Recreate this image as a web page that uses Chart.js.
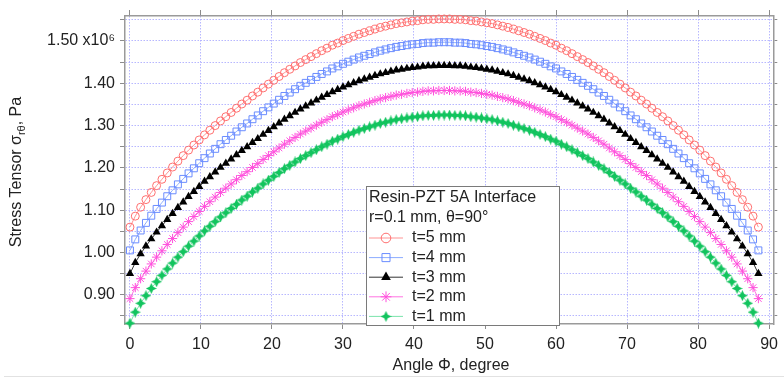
<!DOCTYPE html>
<html>
<head>
<meta charset="utf-8">
<script src="https://cdn.jsdelivr.net/npm/chart.js@4/dist/chart.umd.min.js"></script>
<style>
  html, body { margin: 0; padding: 0; background: #fff; }
  #wrap { width: 784px; height: 377px; }
</style>
</head>
<body>
<div id="wrap"><canvas id="myChart" width="784" height="377"></canvas></div>
<script>
'use strict';

// angle phi, degree
let angles = [0,0.75,1.5,2.25,3,3.75,4.5,5.25,6,6.75,7.5,8.25,9,9.75,10.5,11.25,12,12.75,13.5,14.25,15,15.75,16.5,17.25,18,18.75,19.5,20.25,21,21.75,22.5,23.25,24,24.75,25.5,26.25,27,27.75,28.5,29.25,30,30.75,31.5,32.25,33,33.75,34.5,35.25,36,36.75,37.5,38.25,39,39.75,40.5,41.25,42,42.75,43.5,44.25,45,45.75,46.5,47.25,48,48.75,49.5,50.25,51,51.75,52.5,53.25,54,54.75,55.5,56.25,57,57.75,58.5,59.25,60,60.75,61.5,62.25,63,63.75,64.5,65.25,66,66.75,67.5,68.25,69,69.75,70.5,71.25,72,72.75,73.5,74.25,75,75.75,76.5,77.25,78,78.75,79.5,80.25,81,81.75,82.5,83.25,84,84.75,85.5,86.25,87,87.75,88.5];

// stress tensor, x10^6 Pa
let t5 = [1.060,1.086,1.107,1.125,1.142,1.158,1.173,1.188,1.202,1.216,1.229,1.242,1.254,1.266,1.278,1.289,1.300,1.311,1.321,1.331,1.341,1.351,1.360,1.370,1.379,1.389,1.398,1.407,1.416,1.425,1.433,1.441,1.449,1.456,1.463,1.470,1.477,1.483,1.490,1.495,1.501,1.506,1.511,1.516,1.520,1.524,1.528,1.532,1.535,1.538,1.541,1.543,1.545,1.547,1.548,1.550,1.551,1.551,1.552,1.552,
  1.552,1.551,1.551,1.550,1.548,1.547,1.545,1.543,1.541,1.538,1.535,1.532,1.528,1.524,1.520,1.516,1.511,1.506,1.501,1.495,1.490,1.483,1.477,1.470,1.463,1.456,1.449,1.441,1.433,1.425,1.416,1.407,1.398,1.389,1.379,1.370,1.360,1.351,1.341,1.331,1.321,1.311,1.300,1.289,1.278,1.266,1.254,1.242,1.229,1.216,1.202,1.188,1.173,1.158,1.142,1.125,1.107,1.086,1.060];
let t4 = [1.005,1.031,1.052,1.070,1.087,1.103,1.118,1.133,1.147,1.161,1.174,1.187,1.199,1.211,1.223,1.234,1.245,1.256,1.266,1.276,1.286,1.296,1.305,1.315,1.324,1.334,1.343,1.352,1.361,1.370,1.378,1.386,1.394,1.401,1.408,1.415,1.422,1.428,1.435,1.440,1.446,1.451,1.456,1.461,1.465,1.469,1.473,1.477,1.480,1.483,1.486,1.488,1.490,1.492,1.493,1.495,1.496,1.496,1.497,1.497,
  1.497,1.496,1.496,1.495,1.493,1.492,1.490,1.488,1.486,1.483,1.480,1.477,1.473,1.469,1.465,1.461,1.456,1.451,1.446,1.440,1.435,1.428,1.422,1.415,1.408,1.401,1.394,1.386,1.378,1.370,1.361,1.352,1.343,1.334,1.324,1.315,1.305,1.296,1.286,1.276,1.266,1.256,1.245,1.234,1.223,1.211,1.199,1.187,1.174,1.161,1.147,1.133,1.118,1.103,1.087,1.070,1.052,1.031,1.005];
let t3 = [0.950,0.976,0.997,1.015,1.032,1.048,1.063,1.078,1.092,1.106,1.119,1.132,1.144,1.156,1.168,1.179,1.190,1.201,1.211,1.221,1.231,1.241,1.250,1.260,1.269,1.279,1.288,1.297,1.306,1.315,1.323,1.331,1.339,1.346,1.353,1.360,1.367,1.373,1.380,1.385,1.391,1.396,1.401,1.406,1.410,1.414,1.418,1.422,1.425,1.428,1.431,1.433,1.435,1.437,1.438,1.440,1.441,1.441,1.442,1.442,
  1.442,1.441,1.441,1.440,1.438,1.437,1.435,1.433,1.431,1.428,1.425,1.422,1.418,1.414,1.410,1.406,1.401,1.396,1.391,1.385,1.380,1.373,1.367,1.360,1.353,1.346,1.339,1.331,1.323,1.315,1.306,1.297,1.288,1.279,1.269,1.260,1.250,1.241,1.231,1.221,1.211,1.201,1.190,1.179,1.168,1.156,1.144,1.132,1.119,1.106,1.092,1.078,1.063,1.048,1.032,1.015,0.997,0.976,0.950];
let t2 = [0.891,0.917,0.938,0.956,0.973,0.989,1.004,1.019,1.033,1.047,1.060,1.073,1.085,1.097,1.109,1.120,1.131,1.142,1.152,1.162,1.172,1.182,1.191,1.201,1.210,1.220,1.229,1.238,1.247,1.256,1.264,1.272,1.280,1.287,1.294,1.301,1.308,1.314,1.321,1.326,1.332,1.337,1.342,1.347,1.351,1.355,1.359,1.363,1.366,1.369,1.372,1.374,1.376,1.378,1.379,1.381,1.382,1.382,1.383,1.383,
  1.383,1.382,1.382,1.381,1.379,1.378,1.376,1.374,1.372,1.369,1.366,1.363,1.359,1.355,1.351,1.347,1.342,1.337,1.332,1.326,1.321,1.314,1.308,1.301,1.294,1.287,1.280,1.272,1.264,1.256,1.247,1.238,1.229,1.220,1.210,1.201,1.191,1.182,1.172,1.162,1.152,1.142,1.131,1.120,1.109,1.097,1.085,1.073,1.060,1.047,1.033,1.019,1.004,0.989,0.973,0.956,0.938,0.917,0.891];
let t1 = [0.833,0.859,0.880,0.898,0.915,0.931,0.946,0.961,0.975,0.989,1.002,1.015,1.027,1.039,1.051,1.062,1.073,1.084,1.094,1.104,1.114,1.124,1.133,1.143,1.152,1.162,1.171,1.180,1.189,1.198,1.206,1.214,1.222,1.229,1.236,1.243,1.250,1.256,1.263,1.268,1.274,1.279,1.284,1.289,1.293,1.297,1.301,1.305,1.308,1.311,1.314,1.316,1.318,1.320,1.321,1.323,1.324,1.324,1.325,1.325,
  1.325,1.324,1.324,1.323,1.321,1.320,1.318,1.316,1.314,1.311,1.308,1.305,1.301,1.297,1.293,1.289,1.284,1.279,1.274,1.268,1.263,1.256,1.250,1.243,1.236,1.229,1.222,1.214,1.206,1.198,1.189,1.180,1.171,1.162,1.152,1.143,1.133,1.124,1.114,1.104,1.094,1.084,1.073,1.062,1.051,1.039,1.027,1.015,1.002,0.989,0.975,0.961,0.946,0.931,0.915,0.898,0.880,0.859,0.833];

let seriesNames = ['t=5 mm', 't=4 mm', 't=3 mm', 't=2 mm', 't=1 mm'];
let legendTitle = ['Resin-PZT 5A Interface', 'r=0.1 mm, \u03b8=90\u00b0'];

let xTicks = [0, 10, 20, 30, 40, 50, 60, 70, 80, 90];
let yTicks = [0.85, 0.90, 0.95, 1.00, 1.05, 1.10, 1.15, 1.20, 1.25, 1.30, 1.35, 1.40, 1.45, 1.50, 1.55];
let yLabelled = [0.90, 1.00, 1.10, 1.20, 1.30, 1.40, 1.50];

const FONT = '"Liberation Sans", Arial, sans-serif';
Chart.defaults.font.family = FONT;
Chart.defaults.color = '#222';

function makeStar(color) {
    let c = document.createElement('canvas');
    c.width = 11;
    c.height = 11;
    let g = c.getContext('2d');
    g.fillStyle = color;
    g.beginPath();
    for (let i = 0; i < 8; i++) {
        let r = i % 2 === 0 ? 5.5 : 2.5;
        let a = i * Math.PI / 4 - Math.PI / 2;
        g.lineTo(5.5 + r * Math.cos(a), 5.5 + r * Math.sin(a));
    }
    g.closePath();
    g.fill();
    return c;
}

let greenStar = makeStar('#12c45e');

function pts(vals) {
    return angles.map((a, i) => ({ x: a, y: vals[i] }));
}

let datasets = [
    { label: seriesNames[0], data: pts(t5), borderColor: 'rgba(255,120,120,0.8)', pointBorderColor: '#ff6f6f',
      pointBackgroundColor: 'rgba(0,0,0,0)', pointStyle: 'circle', pointRadius: 4, pointBorderWidth: 1 },
    { label: seriesNames[1], data: pts(t4), borderColor: 'rgba(110,150,255,0.8)', pointBorderColor: '#6a8cff',
      pointBackgroundColor: 'rgba(0,0,0,0)', pointStyle: 'rect', pointRadius: 4.9, pointBorderWidth: 1 },
    { label: seriesNames[2], data: pts(t3), borderColor: '#333', pointBorderColor: '#000',
      pointBackgroundColor: '#000', pointStyle: 'triangle', pointRadius: 4.8, pointBorderWidth: 0 },
    { label: seriesNames[3], data: pts(t2), borderColor: 'rgba(255,90,220,0.85)', pointBorderColor: '#ff50dc',
      pointBackgroundColor: '#ff50dc', pointStyle: 'star', pointRadius: 4.6, pointBorderWidth: 1 },
    { label: seriesNames[4], data: pts(t1), borderColor: 'rgba(90,220,150,0.8)', pointBorderColor: '#12c45e',
      pointBackgroundColor: '#12c45e', pointStyle: greenStar, pointRadius: 4.5, pointBorderWidth: 0 }
];
datasets.forEach(d => {
    d.borderWidth = 1;
    d.tension = 0;
    d.clip = false;
    d.fill = false;
});

// legend box with title lines and line+marker samples
const legendBox = {
    id: 'legendBox',
    afterDatasetsDraw(chart) {
        let ctx = chart.ctx;
        ctx.save();
        ctx.fillStyle = '#fff';
        ctx.fillRect(366, 186, 193, 140);
        ctx.strokeStyle = '#7a7a7a';
        ctx.lineWidth = 1;
        ctx.strokeRect(366.5, 186.5, 193, 139);
        ctx.font = '16px ' + FONT;
        ctx.fillStyle = '#222';
        ctx.textBaseline = 'middle';
        ctx.textAlign = 'left';
        ctx.fillText(legendTitle[0], 369, 198);
        ctx.fillText(legendTitle[1], 369, 218);
        for (let i = 0; i < datasets.length; i++) {
            let d = datasets[i];
            let y = 238 + i * 19.6;
            ctx.strokeStyle = d.borderColor;
            ctx.lineWidth = 1;
            ctx.beginPath();
            ctx.moveTo(369, y);
            ctx.lineTo(403, y);
            ctx.stroke();
            ctx.strokeStyle = d.pointBorderColor;
            ctx.fillStyle = d.pointBackgroundColor;
            ctx.lineWidth = d.pointBorderWidth || 1;
            Chart.helpers.drawPoint(ctx, {
                pointStyle: d.pointStyle, radius: d.pointRadius + 0.8, rotation: 0,
                borderWidth: d.pointBorderWidth
            }, 386, y);
            ctx.fillStyle = '#222';
            ctx.fillText(d.label, 412, y);
        }
        ctx.restore();
    }
};

// axis titles (y one has a subscript)
const axisTitles = {
    id: 'axisTitles',
    afterDraw(chart) {
        let ctx = chart.ctx;
        ctx.save();
        let big = '16px ' + FONT;
        let small = '11px ' + FONT;
        let p1 = 'Stress Tensor \u03c3';
        let p2 = 'r\u03b8';
        let p3 = ', Pa';
        ctx.font = big;
        let w1 = ctx.measureText(p1).width;
        let w3 = ctx.measureText(p3).width;
        ctx.font = small;
        let w2 = ctx.measureText(p2).width;
        let total = w1 + w2 + w3;
        ctx.translate(21, 172);
        ctx.rotate(-Math.PI / 2);
        ctx.fillStyle = '#222';
        ctx.textBaseline = 'alphabetic';
        ctx.textAlign = 'left';
        let x = -total / 2;
        ctx.font = big;
        ctx.fillText(p1, x, 0);
        ctx.font = small;
        ctx.fillText(p2, x + w1, 4);
        ctx.font = big;
        ctx.fillText(p3, x + w1 + w2, 0);
        ctx.restore();

        ctx.save();
        ctx.font = '16px ' + FONT;
        ctx.fillStyle = '#222';
        ctx.textAlign = 'center';
        ctx.textBaseline = 'middle';
        ctx.fillText('Angle \u03a6, degree', 451, 366);
        ctx.strokeStyle = '#e2e2e2';
        ctx.lineWidth = 1;
        ctx.beginPath();
        ctx.moveTo(4, 376.5);
        ctx.lineTo(784, 376.5);
        ctx.stroke();
        ctx.restore();
    }
};

let gridDash = { color: 'rgba(175,175,255,0.9)', lineWidth: 1, tickColor: '#8c8c8c', tickLength: 5, tickWidth: 1 };
let borderStyle = { color: '#9a9a9a', width: 1.5, dash: [1.5, 1.5] };

let ctx = document.getElementById('myChart').getContext('2d');
let chart = new Chart(ctx, {
    type: 'line',
    data: { datasets: datasets },
    options: {
        responsive: false,
        animation: false,
        layout: { padding: 0 },
        plugins: { legend: { display: false }, tooltip: { enabled: false } },
        scales: {
            x: {
                type: 'linear', position: 'bottom', min: -0.7, max: 90.6,
                grid: gridDash, border: borderStyle,
                ticks: { font: { size: 16 }, color: '#222', padding: 6, maxRotation: 0, autoSkip: false },
                afterBuildTicks: s => { s.ticks = xTicks.map(v => ({ value: v })); },
                afterFit: s => { s.height = 53; }
            },
            x2: {
                type: 'linear', position: 'top', min: -0.7, max: 90.6,
                grid: { drawOnChartArea: false, tickColor: '#8c8c8c', tickLength: 6 },
                border: { color: '#9a9a9a', width: 1.5 },
                ticks: { display: false },
                afterBuildTicks: s => { s.ticks = xTicks.map(v => ({ value: v })); },
                afterFit: s => { s.height = 16; }
            },
            y: {
                type: 'linear', position: 'left', min: 0.831, max: 1.559,
                grid: gridDash, border: borderStyle,
                ticks: {
                    font: { size: 16 }, color: '#222', padding: 5, autoSkip: false,
                    callback: v => {
                        let lab = yLabelled.find(t => Math.abs(t - v) < 1e-6);
                        if (lab === undefined) return '';
                        return lab === 1.50 ? '1.50 x10\u2076' : lab.toFixed(2);
                    }
                },
                afterBuildTicks: s => { s.ticks = yTicks.map(v => ({ value: v })); },
                afterFit: s => { s.width = 125; }
            },
            y2: {
                type: 'linear', position: 'right', min: 0.831, max: 1.559,
                grid: { drawOnChartArea: false, tickColor: '#8c8c8c', tickLength: 4 },
                border: { color: '#9a9a9a', width: 1.5 },
                ticks: { display: false },
                afterBuildTicks: s => { s.ticks = yTicks.map(v => ({ value: v })); },
                afterFit: s => { s.width = 7; }
            }
        }
    },
    plugins: [legendBox, axisTitles]
});
</script>
</body>
</html>
